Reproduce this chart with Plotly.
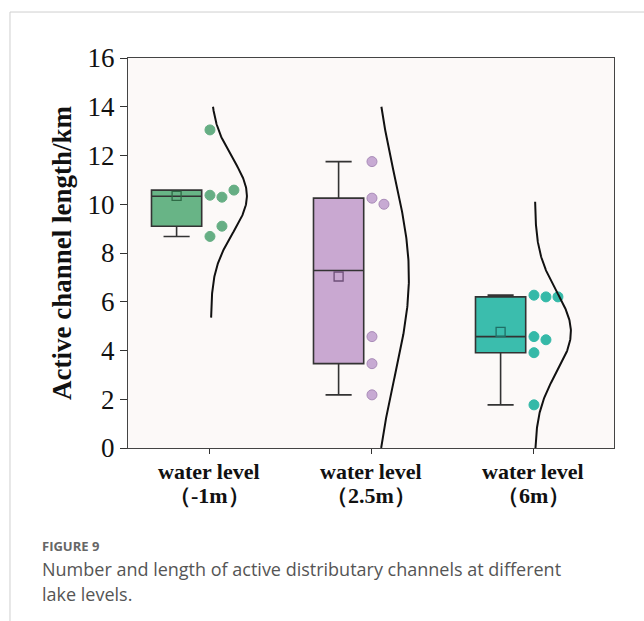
import numpy as np
import plotly.graph_objects as go

# Active channel lengths (km) for each lake water level
categories = ["water level<br>（-1m）", "water level<br>（2.5m）", "water level<br>（6m）"]
len_minus1 = [13.05, 10.37, 10.29, 10.58, 8.68, 9.10]
len_2p5 = [11.75, 10.25, 10.00, 4.57, 3.46, 2.18]
len_6 = [6.27, 6.20, 6.20, 4.57, 4.44, 3.91, 1.77]
# value span covered by each fitted normal curve
curve_lo = [5.35, 0.0, 0.0]
curve_hi = [14.0, 14.0, 10.1]
y_ticks = [0, 2, 4, 6, 8, 10, 12, 14, 16]

groups = [len_minus1, len_2p5, len_6]
box_fill = ["#68b486", "#c9a8d1", "#3bbdad"]
dot_fill = ["#66ae84", "#c7aad3", "#35b9a8"]
dot_line = ["#66ae84", "#a98cb8", "#35b9a8"]
mean_col = ["#2e6b45", "#6e4f78", "#1f6f66"]

BOX_SHIFT = -0.20
BOX_WIDTH = 0.31
DOT_SHIFT = 0.006
DOT_STEP = 0.074
CURVE_SHIFT = 0.012
CURVE_HEIGHT = 0.222
SWARM_GAP = 0.43


def swarm_slots(values, gap):
    """Place each value in the first column where it does not overlap earlier dots."""
    placed = []
    slots = []
    for v in values:
        k = 0
        while any(s == k and abs(v - pv) < gap for pv, s in placed):
            k += 1
        placed.append((v, k))
        slots.append(k)
    return np.array(slots)


def box_stats(values):
    """Quartiles as medians of the lower/upper halves, Tukey 1.5*IQR whiskers."""
    v = np.sort(np.asarray(values, dtype=float))
    n = len(v)
    half = n // 2
    lower = v[:half]
    upper = v[n - half:]
    q1, med, q3 = np.median(lower), np.median(v), np.median(upper)
    iqr = q3 - q1
    inside = v[(v >= q1 - 1.5 * iqr) & (v <= q3 + 1.5 * iqr)]
    return q1, med, q3, inside.min(), inside.max()


fig = go.Figure()

for i, vals in enumerate(groups):
    vals = np.asarray(vals, dtype=float)
    q1, med, q3, lo, hi = box_stats(vals)

    # box with whiskers
    fig.add_trace(go.Box(
        x=[i + BOX_SHIFT], q1=[q1], median=[med], q3=[q3],
        lowerfence=[lo], upperfence=[hi],
        width=BOX_WIDTH, whiskerwidth=0.52,
        fillcolor=box_fill[i],
        line=dict(color="#333333", width=1.6),
        showlegend=False, hoverinfo="skip",
    ))

    # mean marker
    fig.add_trace(go.Scatter(
        x=[i + BOX_SHIFT], y=[vals.mean()], mode="markers",
        marker=dict(symbol="square-open", size=9, color=mean_col[i],
                    line=dict(width=1.3)),
        showlegend=False, hoverinfo="skip",
    ))

    # individual observations
    slots = swarm_slots(vals, SWARM_GAP)
    fig.add_trace(go.Scatter(
        x=i + DOT_SHIFT + DOT_STEP * slots, y=vals, mode="markers",
        marker=dict(size=10, color=dot_fill[i],
                    line=dict(color=dot_line[i], width=1)),
        showlegend=False, hoverinfo="skip",
    ))

    # fitted normal distribution curve
    mu, sd = vals.mean(), vals.std(ddof=1)
    yy = np.linspace(curve_lo[i], curve_hi[i], 200)
    dens = np.exp(-0.5 * ((yy - mu) / sd) ** 2)
    fig.add_trace(go.Scatter(
        x=i + CURVE_SHIFT + CURVE_HEIGHT * dens, y=yy, mode="lines",
        line=dict(color="#111111", width=2),
        showlegend=False, hoverinfo="skip",
    ))

serif = "Liberation Serif, Times New Roman, serif"

fig.update_layout(
    width=644, height=621,
    margin=dict(l=128, r=30, t=58, b=173),
    paper_bgcolor="white",
    plot_bgcolor="#fcf9f8",
    xaxis=dict(
        range=[-0.5, 2.5],
        tickmode="array", tickvals=[0, 1, 2], ticktext=["", "", ""],
        ticks="outside", ticklen=5, tickcolor="#333333",
        showline=True, linecolor="#444444", linewidth=1.3, mirror=True,
        showgrid=False, zeroline=False,
    ),
    yaxis=dict(
        range=[0, 16],
        tickmode="array", tickvals=y_ticks,
        ticks="outside", ticklen=7, tickcolor="#333333",
        showline=True, linecolor="#444444", linewidth=1.3, mirror=True,
        showgrid=False, zeroline=False,
        tickfont=dict(family=serif, size=27, color="#111111"),
        title=dict(text="<b>Active channel length/km</b>",
                   font=dict(family=serif, size=27, color="#111111"),
                   standoff=8),
    ),
    font=dict(family=serif),
)

# two-line category labels under each tick
for i, label in enumerate(categories):
    first, second = label.split("<br>")
    fig.add_annotation(xref="x", yref="paper", x=i, y=-0.059,
                       xanchor="center", yanchor="middle", showarrow=False,
                       text="<b>" + first + "</b>",
                       font=dict(family=serif, size=22, color="#111111"))
    fig.add_annotation(xref="x", yref="paper", x=i, y=-0.123,
                       xanchor="center", yanchor="middle", showarrow=False,
                       text="<b>" + second + "</b>",
                       font=dict(family=serif, size=22, color="#111111"))

# page frame lines
fig.add_shape(type="line", xref="paper", yref="paper",
              x0=-0.2428, x1=1.07, y0=1.1179, y1=1.1179,
              line=dict(color="#cfcfcf", width=1))
fig.add_shape(type="line", xref="paper", yref="paper",
              x0=-0.2428, x1=-0.2428, y0=1.1179, y1=-0.46,
              line=dict(color="#cfcfcf", width=1))

# caption
fig.add_annotation(xref="paper", yref="paper", x=-0.181, y=-0.250,
                   xanchor="left", yanchor="middle", showarrow=False,
                   text="<b>FIGURE 9</b>",
                   font=dict(family="Open Sans", size=13, color="#666666"))
fig.add_annotation(xref="paper", yref="paper", x=-0.181, y=-0.311,
                   xanchor="left", yanchor="middle", showarrow=False,
                   text="Number and length of active distributary channels at different",
                   font=dict(family="Open Sans", size=18, color="#555555"))
fig.add_annotation(xref="paper", yref="paper", x=-0.181, y=-0.375,
                   xanchor="left", yanchor="middle", showarrow=False,
                   text="lake levels.",
                   font=dict(family="Open Sans", size=18, color="#555555"))

fig.write_html("out.html")
